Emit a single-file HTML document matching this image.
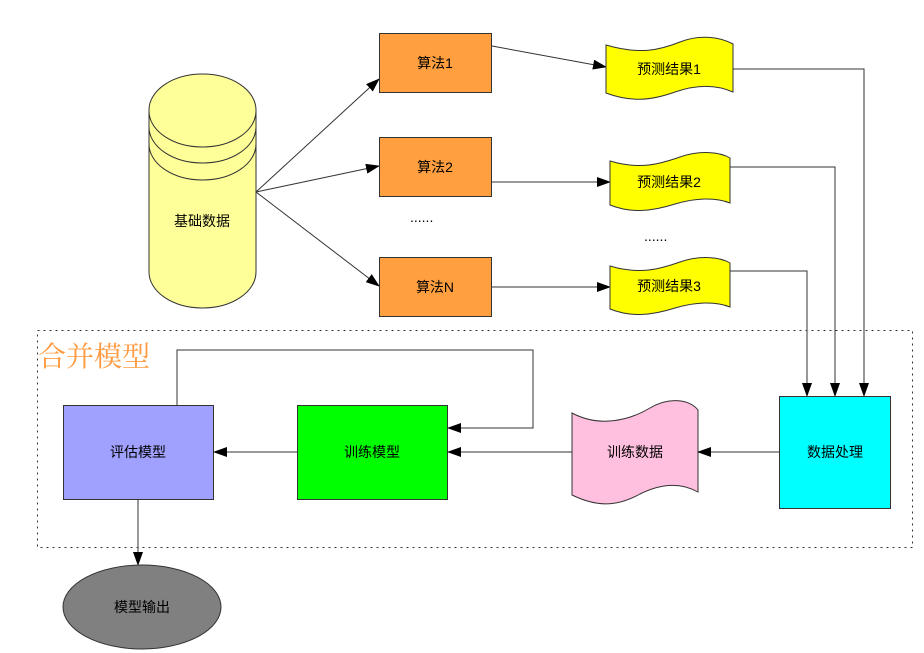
<!DOCTYPE html>
<html><head><meta charset="utf-8"><style>
html,body{margin:0;padding:0;background:#fff;}
svg{display:block;}
text{font-family:"Liberation Sans","Noto Sans CJK SC",sans-serif;font-size:14px;fill:#000;}
</style></head><body>
<svg width="924" height="653" viewBox="0 0 924 653" xmlns="http://www.w3.org/2000/svg">
<defs>
<marker id="a" markerWidth="14" markerHeight="10" refX="13" refY="5" orient="auto" markerUnits="userSpaceOnUse">
<path d="M0,0 L14,5 L0,10 z" fill="#000"/></marker>
</defs>
<!-- dotted group -->
<rect x="37.5" y="330.5" width="875" height="217" fill="none" stroke="#333" stroke-dasharray="2,4"/>
<text x="38" y="366" style="font-size:28px;fill:#ff9a40;font-family:'Noto Serif CJK SC','Noto Sans CJK SC',serif">合并模型</text>

<!-- cylinder -->
<path d="M149,110 A53.5,36 0 0 1 256,110 L256,272 A53.5,36 0 0 1 149,272 Z" fill="#ffff99" stroke="#333"/>
<path d="M149,111 A53.5,36 0 0 0 256,111 M149,127 A53.5,36 0 0 0 256,127 M149,144 A53.5,36 0 0 0 256,144" fill="none" stroke="#333"/>
<text x="202" y="226" text-anchor="middle">基础数据</text>

<!-- arrows from cylinder -->
<g stroke="#333" fill="none">
<line x1="256" y1="192" x2="379" y2="79" marker-end="url(#a)"/>
<line x1="256" y1="192" x2="379" y2="166" marker-end="url(#a)"/>
<line x1="256" y1="192" x2="379" y2="286" marker-end="url(#a)"/>
</g>

<!-- algorithm boxes -->
<g fill="#ff9f40" stroke="#333">
<rect x="379.5" y="33.5" width="112" height="59"/>
<rect x="379.5" y="137.5" width="112" height="59"/>
<rect x="379.5" y="257.5" width="112" height="59"/>
</g>
<text x="435" y="68" text-anchor="middle">算法1</text>
<text x="435" y="172" text-anchor="middle">算法2</text>
<text x="435" y="292" text-anchor="middle">算法N</text>
<text x="410" y="222">......</text>
<text x="644" y="241">......</text>

<!-- arrows algo -> doc -->
<g stroke="#333" fill="none">
<line x1="492" y1="46" x2="606" y2="67" marker-end="url(#a)"/>
<line x1="492" y1="182" x2="610" y2="182" marker-end="url(#a)"/>
<line x1="492" y1="287" x2="610" y2="287" marker-end="url(#a)"/>
</g>

<!-- yellow docs -->
<g fill="#ffff00" stroke="#333">
<path d="M606,45 C640,55 660,50 680,42 C700,34 720,37 733,44 L733,92 C715,84 695,85 675,92 C650,101 630,102 606,93 Z"/>
<path d="M610,161 C640,170 660,164 680,157 C700,150 720,152 730,158 L730,203 C715,197 695,198 675,204 C650,212 630,213 610,205 Z"/>
<path d="M610,266 C640,275 660,269 680,262 C700,255 720,257 730,263 L730,307 C715,301 695,302 675,308 C650,316 630,317 610,309 Z"/>
</g>
<text x="669" y="74" text-anchor="middle">预测结果1</text>
<text x="669" y="187" text-anchor="middle">预测结果2</text>
<text x="669" y="291" text-anchor="middle">预测结果3</text>

<!-- docs -> data processing -->
<g stroke="#333" fill="none">
<polyline points="733,69 864,69 864,396" marker-end="url(#a)"/>
<polyline points="730,167 835,167 835,396" marker-end="url(#a)"/>
<polyline points="730,271 807,271 807,396" marker-end="url(#a)"/>
</g>

<!-- data processing -->
<rect x="779.5" y="396.5" width="111" height="112" fill="#00ffff" stroke="#333"/>
<text x="835" y="457" text-anchor="middle">数据处理</text>

<!-- pink doc -->
<path d="M572,413 C600,428 630,420 650,408 C670,396 690,400 698,410 L698,492 C680,482 660,484 640,494 C615,508 595,506 572,495 Z" fill="#ffbfdf" stroke="#333"/>
<text x="635" y="457" text-anchor="middle">训练数据</text>

<!-- green / purple -->
<rect x="297.5" y="405.5" width="150" height="94" fill="#00ff00" stroke="#333"/>
<text x="372" y="457" text-anchor="middle">训练模型</text>
<rect x="63.5" y="405.5" width="150" height="94" fill="#a0a0ff" stroke="#333"/>
<text x="138" y="457" text-anchor="middle">评估模型</text>

<g stroke="#333" fill="none">
<line x1="779" y1="452" x2="698" y2="452" marker-end="url(#a)"/>
<line x1="572" y1="452" x2="448" y2="452" marker-end="url(#a)"/>
<line x1="297" y1="452" x2="214" y2="452" marker-end="url(#a)"/>
<polyline points="177,405 177,350 533,350 533,428 448,428" marker-end="url(#a)"/>
<line x1="138" y1="500" x2="138" y2="565" marker-end="url(#a)"/>
</g>

<!-- output ellipse -->
<ellipse cx="142" cy="607" rx="79" ry="42" fill="#808080" stroke="#333"/>
<text x="142" y="612" text-anchor="middle">模型输出</text>
</svg>
</body></html>
